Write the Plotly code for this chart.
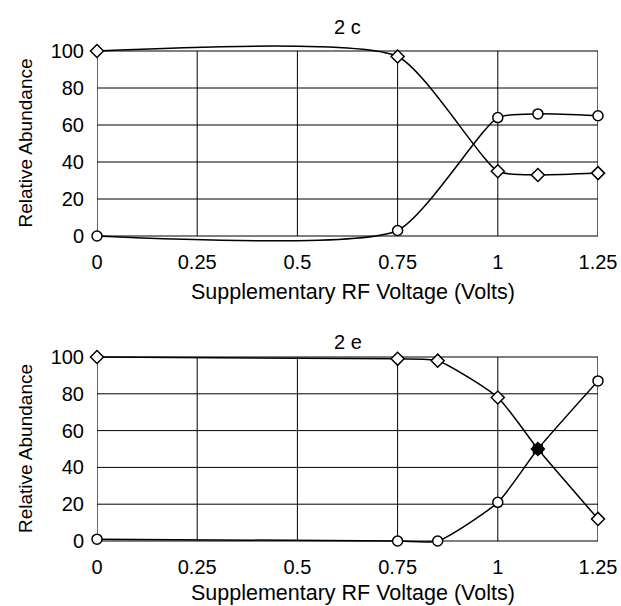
import plotly.graph_objects as go

# Panel 2c
x_2c = [0, 0.75, 1, 1.1, 1.25]
diamond_2c = [100, 97, 35, 33, 34]
circle_2c = [0, 3, 64, 66, 65]

# Panel 2e
x_2e = [0, 0.75, 0.85, 1, 1.1, 1.25]
diamond_2e = [100, 99, 98, 78, 50, 12]
circle_2e = [1, 0, 0, 21, 50, 87]

x_ticks = [0, 0.25, 0.5, 0.75, 1, 1.25]
x_ticklabels = ["0", "0.25", "0.5", "0.75", "1", "1.25"]
y_ticks = [0, 20, 40, 60, 80, 100]
X_MIN, X_MAX = 0, 1.25
Y_MIN, Y_MAX = 0, 100
PAD = 4  # extra y room so smoothed lines may overshoot the frame

FONT = "Liberation Sans, Arial, sans-serif"
W, H = 621, 606
FS = 20

fig = go.Figure()

line = dict(color="black", width=1.5, shape="spline", smoothing=0.55)

def add(x, y, sym, xa, ya):
    fig.add_trace(go.Scatter(
        x=x, y=y, mode="lines+markers", line=line,
        marker=dict(symbol=sym, size=10, color="white",
                    line=dict(color="black", width=1.5)),
        xaxis=xa, yaxis=ya, showlegend=False, cliponaxis=False))

add(x_2c, diamond_2c, "diamond", "x", "y")
add(x_2c, circle_2c, "circle", "x", "y")
add(x_2e, diamond_2e, "diamond", "x2", "y2")
add(x_2e, circle_2e, "circle", "x2", "y2")
# overlapping crossing point in panel 2e appears filled
fig.add_trace(go.Scatter(x=[x_2e[4]], y=[diamond_2e[4]], mode="markers",
                         marker=dict(symbol="square", size=10, color="black"),
                         xaxis="x2", yaxis="y2", showlegend=False, cliponaxis=False))

# reference pixel positions (page coordinates)
L, R = 97, 598
top1, bot1 = 51, 236
top2, bot2 = 357, 541

def px(p):
    return p / W

def py(p):
    return 1 - p / H

def ydomain(top, bot):
    unit = (bot - top) / (Y_MAX - Y_MIN)
    return [py(bot + PAD * unit), py(top - PAD * unit)]

axis_common = dict(showline=False, showgrid=False, zeroline=False,
                   ticks="", tickfont=dict(family=FONT, size=FS, color="black"),
                   automargin=False)

xax = dict(axis_common, range=[X_MIN, X_MAX], tickvals=x_ticks, ticktext=x_ticklabels,
           domain=[px(L), px(R)], ticklabelstandoff=5)
yax = dict(axis_common, range=[Y_MIN - PAD, Y_MAX + PAD], tickvals=y_ticks,
           ticklabelstandoff=12)

fig.update_layout(
    width=W, height=H,
    margin=dict(l=0, r=0, t=0, b=0),
    paper_bgcolor="white", plot_bgcolor="white",
    font=dict(family=FONT, size=FS, color="black"),
    xaxis=dict(xax, anchor="y"),
    yaxis=dict(yax, domain=ydomain(top1, bot1), anchor="x"),
    xaxis2=dict(xax, anchor="y2"),
    yaxis2=dict(yax, domain=ydomain(top2, bot2), anchor="x2"),
)

# frame and gridlines (limited to the 0-100 box)
for xr, yr in (("x", "y"), ("x2", "y2")):
    for xv in x_ticks[1:-1]:
        fig.add_shape(type="line", xref=xr, yref=yr, x0=xv, x1=xv, y0=Y_MIN, y1=Y_MAX,
                      line=dict(color="black", width=1), layer="below")
    for yv in y_ticks[1:-1]:
        fig.add_shape(type="line", xref=xr, yref=yr, x0=X_MIN, x1=X_MAX, y0=yv, y1=yv,
                      line=dict(color="black", width=1), layer="below")
    fig.add_shape(type="rect", xref=xr, yref=yr, x0=X_MIN, x1=X_MAX, y0=Y_MIN, y1=Y_MAX,
                  line=dict(color="black", width=1.2), layer="below")

cx = (L + R) / 2
anns = [
    ("2 c", cx, 27, 0, FS),
    ("2 e", cx, 342, 0, FS),
    ("Supplementary RF Voltage (Volts)", cx + 5, 292, 0, 21.5),
    ("Supplementary RF Voltage (Volts)", cx + 5, 593, 0, 21.5),
    ("Relative Abundance", 25, (top1 + bot1) / 2, -90, 19),
    ("Relative Abundance", 25, (top2 + bot2) / 2, -90, 19),
]
for text, x, y, ang, fs in anns:
    fig.add_annotation(text=text, x=px(x), y=py(y), xref="paper", yref="paper",
                       showarrow=False, textangle=ang, xanchor="center", yanchor="middle",
                       font=dict(family=FONT, size=fs, color="black"))

fig.write_html(
    "out.html",
    config={"displayModeBar": False},
    post_script=("document.body.style.margin='0';"
                 "document.body.style.overflow='hidden';"
                 "document.documentElement.style.overflow='hidden';"),
)
